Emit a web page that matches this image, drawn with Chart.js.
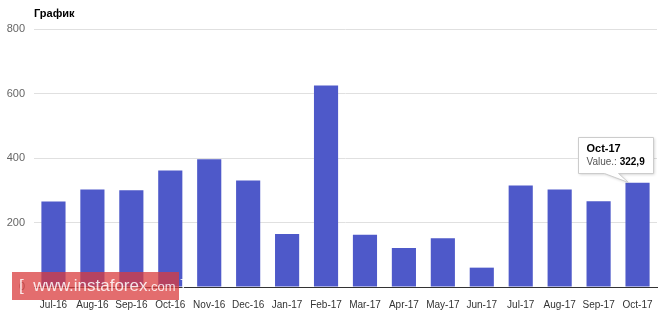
<!DOCTYPE html>
<html>
<head>
<meta charset="utf-8">
<script src="https://cdn.jsdelivr.net/npm/chart.js@4.4.1/dist/chart.umd.min.js"></script>
<style>
  html, body { margin: 0; padding: 0; background: #fff; }
  #wrap { position: relative; width: 665px; height: 310px; }
  #stamp {
    position: absolute; left: 12px; top: 272px; width: 167px; height: 28px;
    background: rgba(218, 60, 62, 0.75); color: rgba(255, 255, 255, 0.85);
    font: 17px "Liberation Sans", Arial, sans-serif; line-height: 28px;
    white-space: nowrap; padding-left: 7px; box-sizing: border-box;
  }
  #stamp small { font-size: 13px; }
</style>
</head>
<body>
<div id="wrap">
  <canvas id="chart" width="665" height="310"></canvas>
  <div id="stamp">[ &nbsp;www.instaforex<small>.com</small> ]</div>
</div>
<script>
/* ============ DATA ============ */
const months = ["Jul-16", "Aug-16", "Sep-16", "Oct-16", "Nov-16", "Dec-16",
                "Jan-17", "Feb-17", "Mar-17", "Apr-17", "May-17", "Jun-17",
                "Jul-17", "Aug-17", "Sep-17", "Oct-17"];
const values = [265, 302, 300, 361, 396, 330, 164, 625, 162, 121, 151, 60,
                315, 302, 266, 322.9];
const yTicks = [0, 200, 400, 600, 800];
const chartTitle = "График";
const tipIndex = 15;
const tipLabel = "Value.:";

const FONT = "'Liberation Sans', Arial, sans-serif";

/* title drawn at the left of the plot area */
const titlePlugin = {
    id: "titleLeft",
    afterDraw(chart) {
        const ctx = chart.ctx;
        ctx.save();
        ctx.font = "bold 11px " + FONT;
        ctx.fillStyle = "#000";
        ctx.textBaseline = "middle";
        ctx.fillText(chartTitle, chart.chartArea.left, 14);
        ctx.restore();
    }
};

/* static tooltip over the last bar */
const tipPlugin = {
    id: "fixedTip",
    afterDraw(chart) {
        const bar = chart.getDatasetMeta(0).data[tipIndex];
        if (!bar) return;
        const ctx = chart.ctx;
        const w = 75, h = 36;
        const bx = Math.round(bar.x - 60) + 0.5;
        const by = Math.round(bar.y - 46) + 0.5;

        ctx.save();
        // box with pointer toward the bar top
        ctx.shadowColor = "rgba(0,0,0,0.2)";
        ctx.shadowBlur = 3;
        ctx.shadowOffsetX = 1;
        ctx.shadowOffsetY = 1;
        ctx.fillStyle = "#fff";
        ctx.beginPath();
        ctx.moveTo(bx, by);
        ctx.lineTo(bx + w, by);
        ctx.lineTo(bx + w, by + h);
        ctx.lineTo(bx + 40, by + h);
        ctx.lineTo(bx + 50, by + h + 9);
        ctx.lineTo(bx + 26, by + h);
        ctx.lineTo(bx, by + h);
        ctx.closePath();
        ctx.fill();
        ctx.shadowColor = "transparent";
        ctx.strokeStyle = "#cccccc";
        ctx.lineWidth = 1;
        ctx.stroke();

        // text
        ctx.textBaseline = "middle";
        ctx.font = "bold 11px " + FONT;
        ctx.fillStyle = "#000";
        ctx.fillText(months[tipIndex], bx + 8, by + 11);
        ctx.font = "10px " + FONT;
        ctx.fillStyle = "#555";
        ctx.fillText(tipLabel, bx + 8, by + 25);
        const lw = ctx.measureText(tipLabel + " ").width;
        ctx.font = "bold 10px " + FONT;
        ctx.fillStyle = "#000";
        ctx.fillText(String(values[tipIndex]).replace(".", ","), bx + 8 + lw, by + 25);
        ctx.restore();
    }
};

new Chart(document.getElementById("chart"), {
    type: "bar",
    data: {
        labels: months,
        datasets: [{
            data: values,
            backgroundColor: "#4e59c9",
            categoryPercentage: 1,
            barPercentage: 0.62
        }]
    },
    options: {
        responsive: false,
        animation: false,
        events: [],
        layout: { padding: { top: 29, right: 8, left: 0, bottom: 0 } },
        plugins: {
            legend: { display: false },
            title: { display: false },
            tooltip: { enabled: false }
        },
        scales: {
            x: {
                grid: { display: false },
                border: { display: true, color: "#333", width: 1 },
                ticks: {
                    color: "#333",
                    font: { family: FONT, size: 10 },
                    autoSkip: false,
                    maxRotation: 0,
                    padding: 4
                },
                afterFit(scale) { scale.height = 23; }
            },
            y: {
                min: 0,
                max: 800,
                afterBuildTicks(scale) { scale.ticks = yTicks.map(v => ({ value: v })); },
                grid: {
                    color: ctx => ctx.tick && ctx.tick.value === 0 ? "#333" : "#e0e0e0",
                    drawTicks: false
                },
                border: { display: false },
                ticks: {
                    color: "#666",
                    font: { family: FONT, size: 11 },
                    padding: 9
                },
                afterFit(scale) { scale.width = 34; }
            }
        }
    },
    plugins: [titlePlugin, tipPlugin]
});
</script>
</body>
</html>
